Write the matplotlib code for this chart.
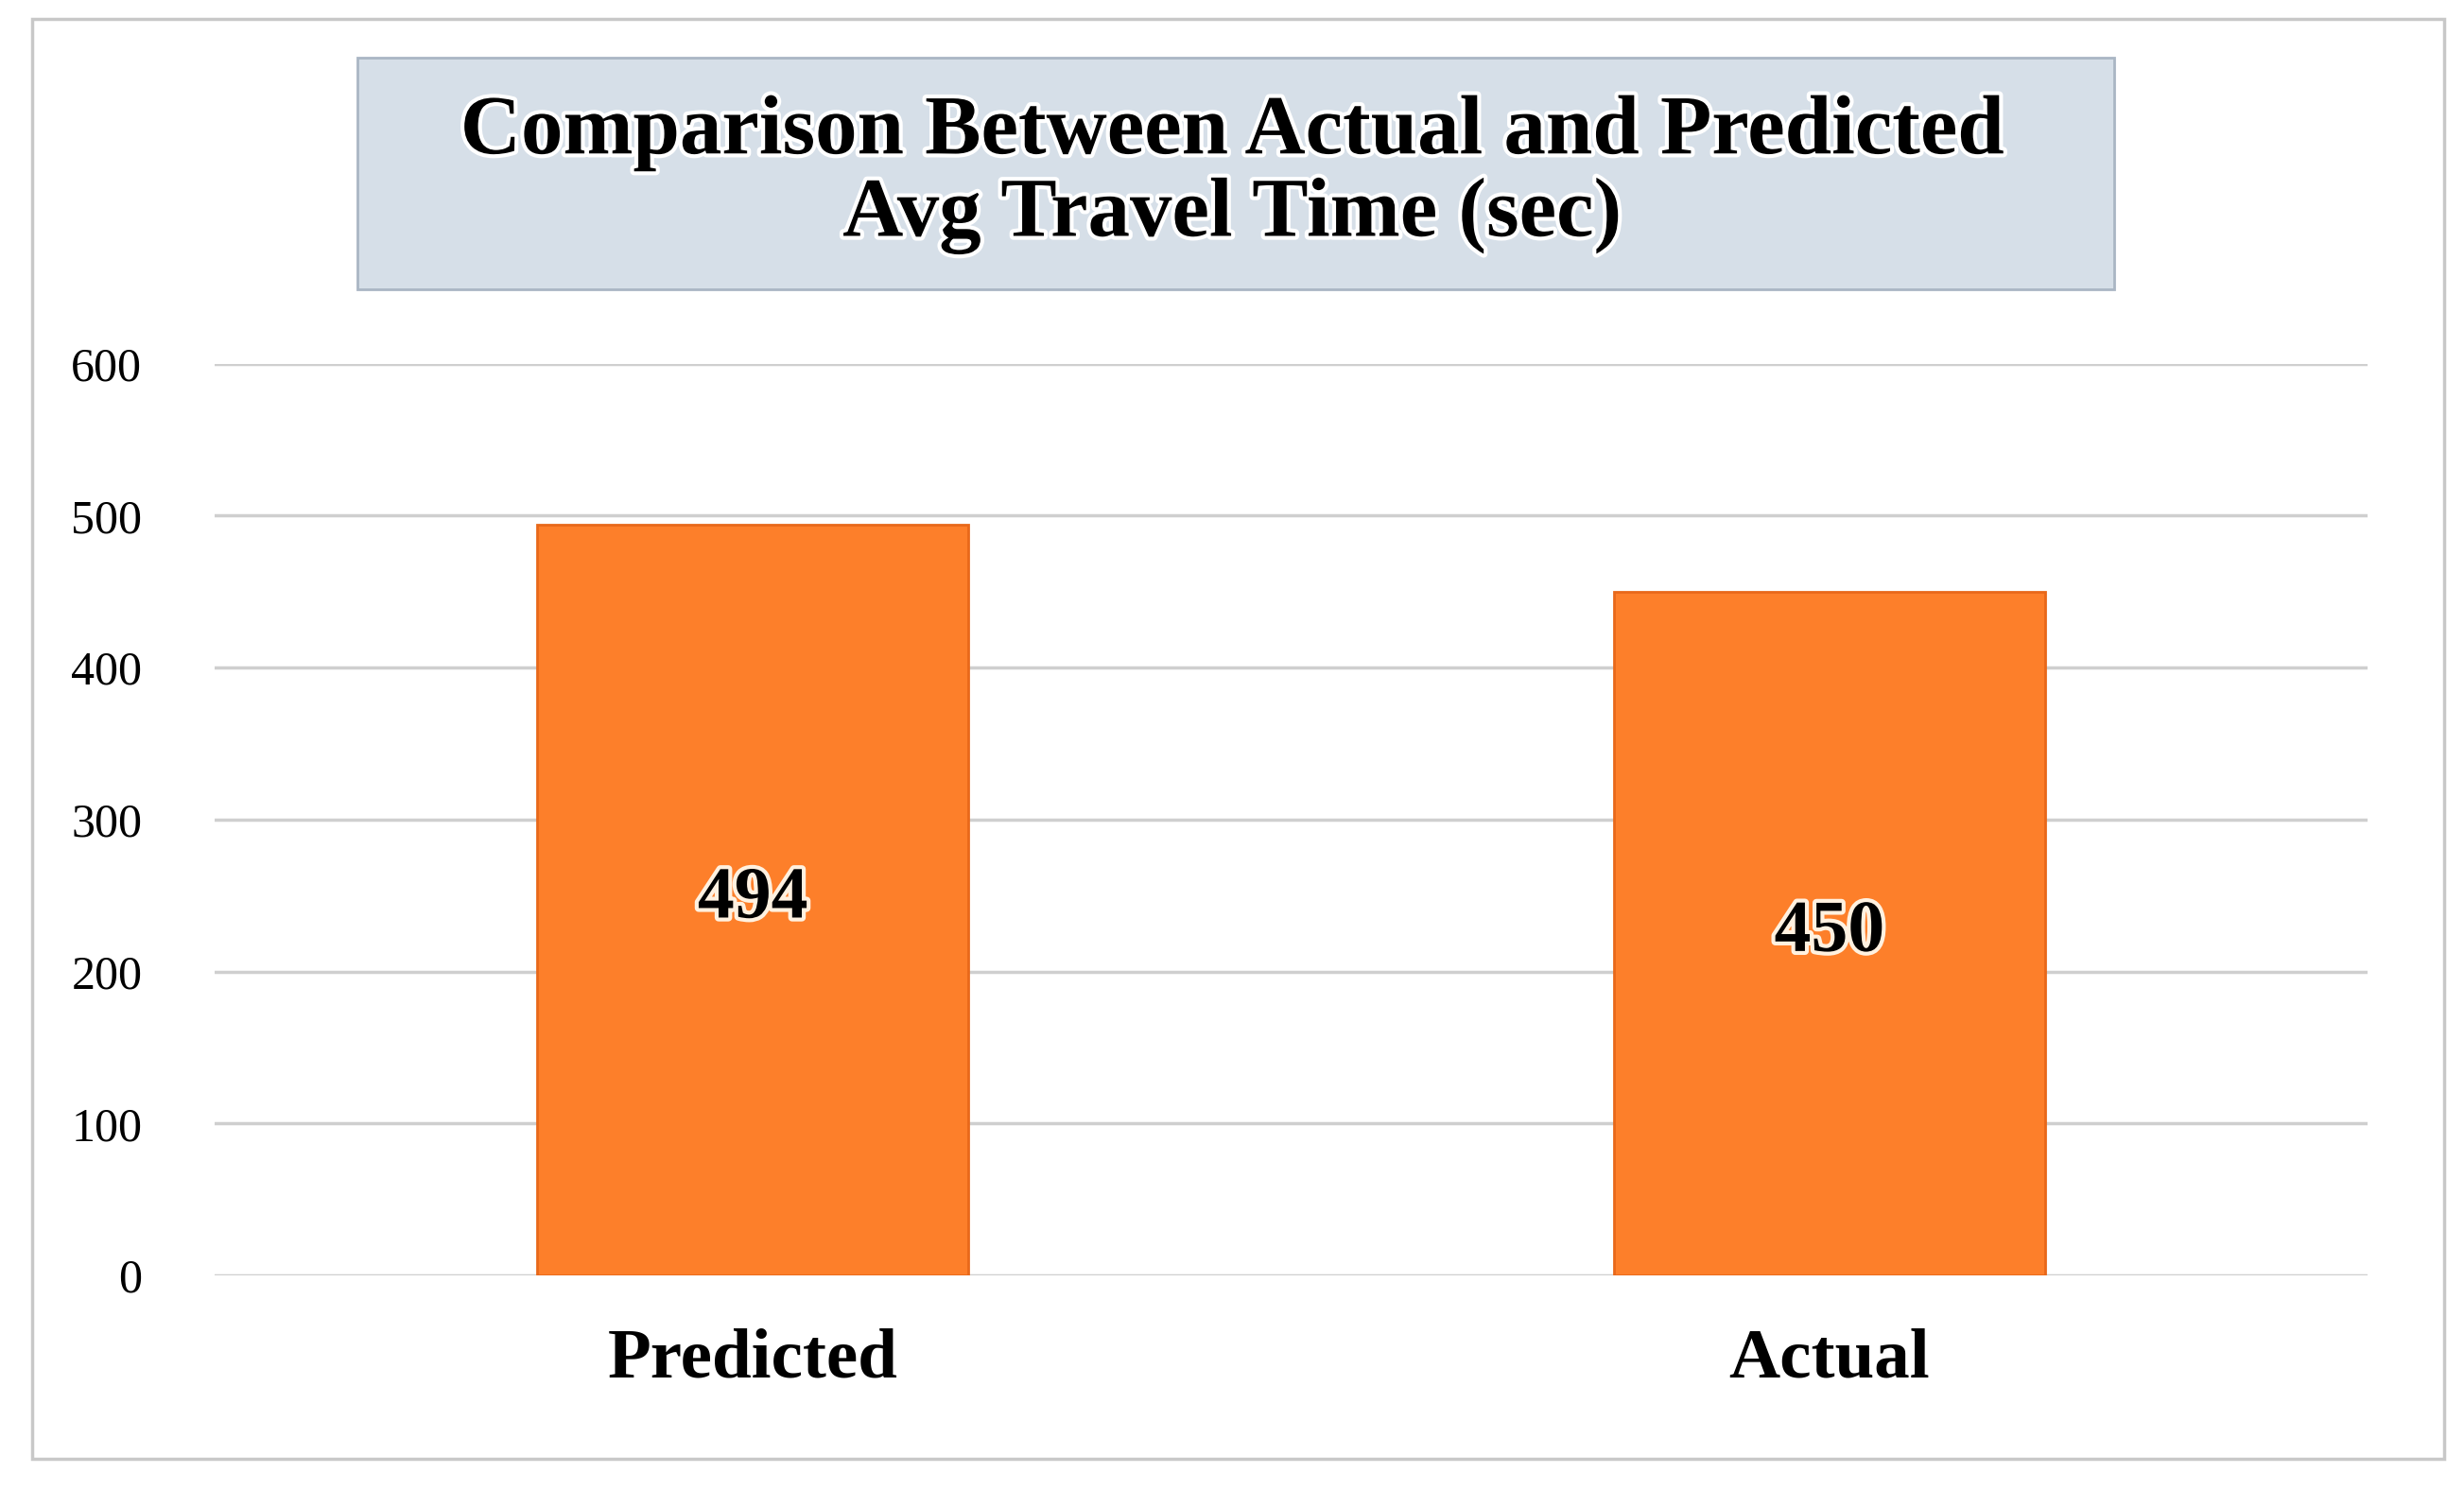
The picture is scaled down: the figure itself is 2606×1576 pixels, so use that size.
import matplotlib

matplotlib.use("Agg")
import matplotlib.pyplot as plt
import matplotlib.patheffects as pe
from matplotlib.patches import Rectangle

categories = ["Predicted", "Actual"]
values = [494, 450]
y_ticks = [0, 100, 200, 300, 400, 500, 600]

plt.rcParams["font.family"] = ["Liberation Serif", "DejaVu Serif"]

fig = plt.figure(figsize=(26.06, 15.76), dpi=100)
# outer border
fig.patches.append(Rectangle((0.013, 0.021), 0.979, 0.966, transform=fig.transFigure,
                             fill=False, edgecolor="#c8c8c8", linewidth=2.5))
# title box
fig.patches.append(Rectangle((0.145, 0.806), 0.713, 0.155, transform=fig.transFigure,
                             facecolor="#d6dfe8", edgecolor="#aab6c4", linewidth=2))
fig.text(0.5, 0.883, "Comparison Between Actual and Predicted\nAvg Travel Time (sec)",
         ha="center", va="center", fontsize=64, fontweight="bold", linespacing=1.1,
         path_effects=[pe.withStroke(linewidth=6, foreground="white")])

ax = fig.add_axes([0.087, 0.144, 0.874, 0.612])
x = range(len(categories))
bars = ax.bar(x, values, width=0.4, color="#fd7f2a", edgecolor="#e8681a", linewidth=2, zorder=3)
ax.set_xlim(-0.5, 1.5)
ax.set_ylim(0, 600)
ax.set_yticks(y_ticks)
ax.set_yticklabels([str(t) for t in y_ticks], fontsize=36)
ax.set_xticks(list(x))
ax.set_xticklabels(categories, fontsize=54, fontweight="bold")
ax.tick_params(length=0, axis="y", pad=55)
ax.tick_params(length=0, axis="x", pad=40)
ax.grid(True, axis="y", color="#cfcfcf", linewidth=2.5, zorder=0)
for s in ax.spines.values():
    s.set_visible(False)

for bar, v in zip(bars, values):
    ax.text(bar.get_x() + bar.get_width() / 2, v / 2, str(v), ha="center", va="center",
            fontsize=56, fontweight="bold", zorder=4,
            path_effects=[pe.withStroke(linewidth=6, foreground="#fff1e0")])

fig.savefig("out.png", dpi=100)
